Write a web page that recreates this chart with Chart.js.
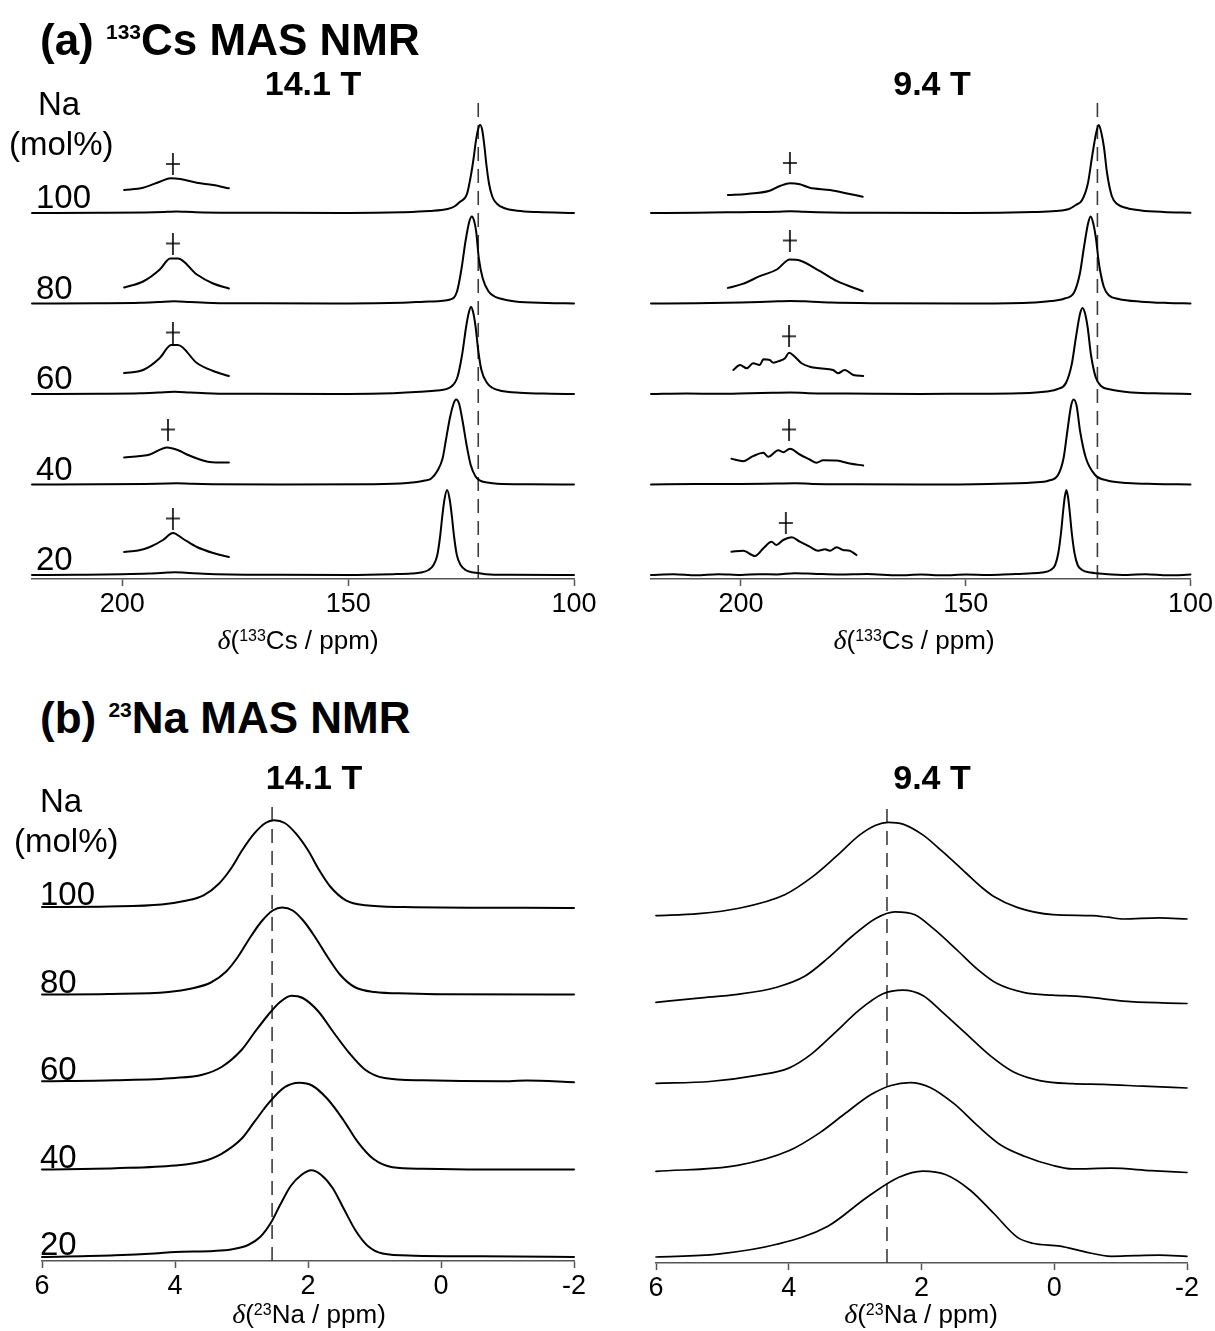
<!DOCTYPE html>
<html>
<head>
<meta charset="utf-8">
<title>133Cs and 23Na MAS NMR</title>
<script src="https://cdn.jsdelivr.net/npm/chart.js@4/dist/chart.umd.min.js"></script>
<style>
  html, body { margin: 0; padding: 0; background: #fff; }
  body { width: 1215px; height: 1331px; position: relative; overflow: hidden;
         font-family: "Liberation Sans", Arial, Helvetica, sans-serif; color: #000; }
  canvas { position: absolute; z-index: 1; }
  .t { position: absolute; z-index: 2; line-height: 1; white-space: nowrap; transform: translateY(-50%); }
  .c { transform: translate(-50%, -50%); }
  .title { font-size: 44px; font-weight: bold; }
  .title .sup { font-size: 21px; position: relative; top: -16px; font-weight: bold; }
  .field { font-size: 34px; font-weight: bold; }
  .lab { font-size: 33px; }
  .ax { font-size: 26px; }
  .ax .sup { font-size: 16px; position: relative; top: -8px; }
  .ax i { font-family: "Liberation Serif", "Times New Roman", serif; font-size: 28px; }
</style>
</head>
<body>
<canvas id="csHigh"></canvas>
<canvas id="csLow"></canvas>
<canvas id="naHigh"></canvas>
<canvas id="naLow"></canvas>

<div class="t title" style="left:40px;top:40px">(a) <span class="sup">133</span>Cs MAS NMR</div>
<div class="t title" style="left:40px;top:718px">(b) <span class="sup">23</span>Na MAS NMR</div>
<div class="t field c" style="left:313px;top:83px">14.1 T</div>
<div class="t field c" style="left:932px;top:83px">9.4 T</div>
<div class="t field c" style="left:314px;top:777px">14.1 T</div>
<div class="t field c" style="left:932px;top:777px">9.4 T</div>
<div class="t lab" style="left:38px;top:103px">Na</div>
<div class="t lab" style="left:9px;top:143px">(mol%)</div>
<div class="t lab" style="left:40px;top:800px">Na</div>
<div class="t lab" style="left:14px;top:840px">(mol%)</div>
<div class="t ax c" style="left:298px;top:640px"><i>δ</i>(<span class="sup">133</span>Cs / ppm)</div>
<div class="t ax c" style="left:914px;top:640px"><i>δ</i>(<span class="sup">133</span>Cs / ppm)</div>
<div class="t ax c" style="left:309px;top:1314px"><i>δ</i>(<span class="sup">23</span>Na / ppm)</div>
<div class="t ax c" style="left:921px;top:1314px"><i>δ</i>(<span class="sup">23</span>Na / ppm)</div>

<script>
// ---- Data -----------------------------------------------------------------
// Na content of the glasses (mol%), listed from the bottom trace to the top one
const naContent = ['20', '40', '60', '80', '100'];

// Shift windows and tick labels (ppm)
const csRange = [100, 220];
const naRange = [-2, 6];
const csTicks = [200, 150, 100];
const naTicks = [6, 4, 2, 0, -2];

// Reference shifts marked by the dashed lines (ppm)
const csRef141 = 121.2;
const csRef94 = 120.7;
const naRef141 = 2.54;
const naRef94 = 2.52;

// 133Cs MAS NMR, 14.1 T : [shift ppm, intensity]
const cs141_20 = [[220,0],[210,0.3],[200,0.8],[194,1.5],[190,2.4],[188.5,2.7],[186,2.2],[182,1.2],[176,0.5],[165,0.2],[150,0],[140,0.8],[136,1.5],[133.9,2.5],[132.2,5],[131.1,10],[130.26,20],[129.66,38],[129.18,58],[128.7,75],[128.1,85],[127.5,75],[127.02,58],[126.54,38],[125.94,20],[125.1,10],[124.0,5],[122.6,2.8],[121.2,2],[119.5,0.8],[114,0.2],[100,0]];
const cs141_40 = [[220,0],[205,0.2],[195,0.6],[190,1.1],[188,1.2],[185,0.8],[180,0.3],[165,0],[145,0.3],[137,1.5],[133,4],[131.6,6],[130.2,14],[129.1,26],[128.3,46],[127.5,66],[126.65,81],[126.1,85],[125.45,81],[124.65,63],[123.8,40],[122.9,20],[121.8,8],[120.6,3.5],[119.2,2],[117,0.8],[110,0.3],[100,0]];
const cs141_60 = [[220,0],[205,0.3],[196,0.8],[192,1.5],[188.5,2.2],[185,1.5],[180,0.6],[170,0.2],[150,0],[140,0.8],[134,2.2],[130.4,3.5],[127.3,7],[125.8,17],[124.75,40],[123.89,67],[123.26,82],[122.8,87],[122.34,82],[121.78,67],[121.19,43],[120.5,24],[119.24,11],[118,6],[116.3,3.3],[112,1.2],[105,0.3],[100,0]];
const cs141_80 = [[220,0],[205,0.3],[196,0.8],[192,1.5],[188.5,2.2],[185,1.5],[180,0.6],[170,0.2],[150,0],[138,0.8],[132,2],[127.4,4],[125.9,12],[124.9,35],[124.03,62],[123.18,82],[122.6,87],[122.14,83],[121.66,72],[121.07,45],[120.2,25],[118.9,12],[117.6,7],[116.4,5],[113,2],[106,0.5],[100,0]];
const cs141_100 = [[220,0],[205,0.2],[195,0.6],[190,1.2],[188,1.5],[186,1.2],[182,0.5],[170,0.2],[150,0],[138,0.8],[132,2],[128,4],[126.5,6.5],[125.3,11],[123.7,19],[122.85,37],[122.25,54],[121.75,71],[121.22,84],[120.8,88],[120.32,83],[119.84,67],[119.36,47],[118.8,29],[118.05,16],[117.0,9],[115.5,5],[112.5,2.2],[108,0.9],[100,0]];

// 14.1 T vertically expanded traces of the 176-200 ppm region
const cs141x_20 = [[199.6,23],[196.5,24.5],[193.9,28],[191,35],[188.8,42],[186.5,36],[183.5,28],[179.9,22],[176.4,18]];
const cs141x_40 = [[199.6,27],[196,28.5],[193.9,30],[190.1,37],[187.5,34],[185.7,30],[181.3,23],[178.5,22],[176.4,22]];
const cs141x_60 = [[199.6,21],[195.4,24],[191.7,36],[189.2,49],[187.7,49],[183.5,31],[179.9,23],[176.4,18]];
const cs141x_80 = [[199.6,16],[195.4,22],[191.7,34],[189.4,45],[187.7,45],[183.5,29],[179.9,20],[176.4,15]];
const cs141x_100 = [[199.6,23],[195.4,25.3],[191.7,31.3],[189.3,34.7],[187.2,34],[183.5,30.3],[179.9,28],[176.4,24.7]];
// "+" markers above the expanded traces
const cs141Marks = [[188.8,56.5],[189.9,55],[188.8,61.5],[188.8,60],[188.8,49]];

// 133Cs MAS NMR, 9.4 T
const cs94_20 = [[220,0],[215,0.8],[210,-0.3],[205,0.8],[200,0],[196,0.8],[192,0.5],[188,1.8],[184,1.3],[178,0.5],[172,1],[165,-0.3],[160,0.4],[155,-0.3],[150,0.4],[145,0],[140,0.8],[136,1.5],[133,2.5],[131.1,5],[130.1,10],[129.4,22],[128.8,42],[128.32,64],[127.96,78],[127.6,85],[127.24,78],[126.88,64],[126.4,42],[125.8,22],[125.1,10],[124.1,5],[122.2,2.5],[119,1],[114,0],[110,0.8],[105,-0.3],[100,0.4]];
const cs94_40 = [[220,0],[210,0.4],[200,0.6],[192,1],[188,1.2],[184,0.6],[175,0.2],[160,0],[145,0.5],[135,2],[131.5,4],[129.4,10],[128.2,27],[127.4,53],[126.55,79],[126.0,85],[125.34,79],[124.54,53],[123.3,27],[121.3,10],[118.5,4],[114,1.5],[108,0.5],[100,0]];
const cs94_60 = [[220,0],[212,0.5],[205,0.2],[198,0.8],[193,1.2],[189,1.5],[185,0.8],[178,0.5],[170,0.2],[160,0],[150,0.3],[138,0.8],[132,2.5],[129.5,5],[127.7,11],[126.4,30],[125.5,56],[124.58,80],[124.0,86],[123.42,80],[122.85,66],[122.16,40],[121.1,17],[119.9,8],[117.8,4.5],[113,1.5],[106,0.5],[100,0]];
const cs94_80 = [[220,0],[210,0.3],[200,1],[193,2],[189,2.5],[185,2],[180,1],[170,0.3],[150,0],[136,0.8],[131,2.5],[128,5],[125.9,11],[124.6,30],[123.7,56],[122.78,80],[122.2,87],[121.62,80],[121.05,66],[120.36,40],[119.3,17],[118.1,8],[116,4.5],[111,1.8],[105,0.5],[100,0]];
const cs94_100 = [[220,0],[210,0.3],[200,0.8],[192,1.2],[189,1.8],[186,1.2],[180,0.5],[170,0.2],[150,0],[135,1],[130,2],[127,4],[125.5,8],[124.1,13],[122.8,30],[121.9,56],[120.98,80],[120.4,88],[119.82,80],[119.25,66],[118.56,40],[117.5,17],[116.3,9],[114.2,5],[111,2.5],[106,1],[100,0.3]];

const cs94x_20 = [[202.1,23.3],[199.5,24.3],[196.9,19],[195.0,26.7],[193.2,33.3],[192.1,30],[190.6,35],[188.7,37.7],[186.9,33.3],[184.7,28.3],[182.8,24.3],[181.3,25.7],[180.2,24.3],[178.7,27.7],[177.3,25],[175.8,24.3],[174.3,20]];
const cs94x_40 = [[202.1,25.7],[199.5,23.3],[197.3,28.3],[195.0,31.7],[193.9,27.7],[191.7,34.3],[190.6,32.3],[189.1,35.7],[186.9,30],[184.7,25],[183.2,21.7],[181.7,24.3],[178.7,24],[175.8,21],[172.8,19]];
const cs94x_60 = [[201.7,24],[200.2,29],[198.7,25.7],[197.3,30.7],[195.8,29],[195.0,34.7],[193.6,34],[192.8,31.3],[191.3,33.3],[190.2,35.7],[189.3,41.3],[188.0,37.3],[186.5,30.7],[184.7,27.3],[182.4,25.7],[179.5,24],[178.4,20.7],[176.9,24],[175.0,19],[172.8,18]];
const cs94x_80 = [[202.9,15.6],[199.6,19.6],[195.8,27.3],[192.0,34],[189.1,44],[186.9,43],[182.4,32.3],[178.6,22.3],[172.9,12.3]];
const cs94x_100 = [[202.9,18],[198.7,19],[193.6,22.3],[191.3,27],[189.1,29.7],[186.9,28.7],[184.7,25.3],[180.2,23],[175.8,19],[172.9,16.3]];
const cs94Marks = [[190.0,52],[189.3,55],[189.3,57.7],[189.1,63],[189.1,50]];

// 23Na MAS NMR, 14.1 T
const na141_20 = [[6.0,0],[4.9,1.7],[4.31,3.5],[4.0,5],[3.42,6],[3.16,7.5],[2.9,12],[2.72,20],[2.56,34],[2.42,52],[2.26,71],[2.1,82],[1.95,86.7],[1.8,82],[1.63,69],[1.46,48],[1.28,26],[1.1,11],[0.88,3.5],[0.4,1.3],[-0.6,0.7],[-2.0,0]];
const na141_40 = [[6.0,0],[4.9,1.3],[4.0,4],[3.59,8],[3.3,15.7],[3.0,30.7],[2.81,47.3],[2.58,67.3],[2.35,82.3],[2.13,86.7],[1.94,84],[1.71,70.7],[1.48,50.7],[1.25,27.3],[1.02,10.7],[0.73,2.3],[0.27,0.7],[-0.6,0],[-2.0,0]];
const na141_60 = [[6.0,0.7],[4.9,1.7],[4.0,4],[3.59,7.3],[3.3,15],[3.0,32],[2.81,49],[2.6,67],[2.42,80],[2.25,86.3],[2.08,84],[1.85,71],[1.62,50],[1.38,29],[1.14,12.3],[0.85,4],[0.27,1.7],[-0.89,0.7],[-1.29,1.5],[-2.0,-0.3]];
const na141_80 = [[6.0,0],[5.0,0.5],[4.1,2.5],[3.75,6],[3.46,12],[3.23,23],[3.05,38],[2.88,56],[2.7,73],[2.53,84],[2.39,87],[2.23,84],[2.06,73],[1.88,56],[1.7,37],[1.52,20],[1.3,7.5],[1.0,2.5],[0.5,1],[0,0.3],[-2.0,0]];
const na141_100 = [[6.0,0],[5.0,0.5],[4.2,2.5],[3.86,6],[3.57,11.7],[3.34,23.3],[3.16,38.3],[2.99,56.7],[2.81,73.3],[2.64,84],[2.51,86.7],[2.35,84],[2.18,73.3],[2.0,56.7],[1.83,36.7],[1.66,20],[1.43,6.7],[1.14,1.7],[0.56,0],[-2.0,-1]];

// 23Na MAS NMR, 9.4 T
const na94_20 = [[6.0,0],[5.07,2.9],[4.18,12.7],[3.41,30.8],[2.82,59.8],[2.34,79.7],[1.98,85.9],[1.63,82.2],[1.27,67],[0.91,43.5],[0.56,19.9],[0.33,13.8],[-0.09,10.9],[-0.45,5.4],[-0.86,0.7],[-1.22,1.4],[-1.58,1.8],[-2.0,0.7]];
const na94_40 = [[6.0,1.1],[4.77,7.2],[4.0,21.7],[3.53,39.9],[3.17,58],[2.76,77.9],[2.46,87],[2.17,89.9],[1.87,85.1],[1.51,68.8],[1.16,47.1],[0.8,27.2],[0.45,16.3],[0.03,7.2],[-0.27,3.6],[-0.86,4.3],[-1.46,1.8],[-2.0,0]];
const na94_60 = [[6.0,4.7],[5.19,6.5],[4.48,12.7],[4.0,19.9],[3.65,34.4],[3.29,56.2],[2.94,77.9],[2.58,94.2],[2.28,97.8],[1.98,92.4],[1.69,76.1],[1.33,54.3],[0.97,32.6],[0.62,16.3],[0.2,7.2],[-0.27,4.3],[-0.74,3.6],[-1.34,1.8],[-2.0,0]];
const na94_80 = [[6.0,1.1],[5.36,5.4],[4.77,9.1],[4.18,16.3],[3.76,27.2],[3.41,45.3],[3.05,67],[2.69,85.1],[2.4,91.7],[2.1,88.8],[1.81,74.3],[1.45,52.5],[1.16,34.4],[0.86,19.9],[0.45,10.9],[0.03,8.3],[-0.38,7.2],[-0.74,4.7],[-1.15,1.8],[-2.0,0]];
const na94_100 = [[6.0,3.3],[5.36,5.4],[4.77,10.5],[4.06,24.3],[3.64,42.4],[3.29,62.3],[2.93,84.1],[2.69,93.8],[2.5,96.7],[2.28,94.9],[1.98,84.1],[1.69,67.8],[1.33,46],[1.09,31.5],[0.91,22.5],[0.56,11.6],[0.02,4.3],[-0.57,3.3],[-0.81,1.8],[-1.04,0],[-1.58,1.1],[-2.0,0]];

// ---- Drawing --------------------------------------------------------------
const FONT = '"Liberation Sans", Arial, Helvetica, sans-serif';
const AXIS_H = 45;

// small "+" used to flag the expanded region
function plusMark() {
  const c = document.createElement('canvas');
  c.width = 16; c.height = 22;
  const g = c.getContext('2d');
  g.strokeStyle = '#000';
  g.lineWidth = 1.6;
  g.beginPath();
  g.moveTo(8, 0); g.lineTo(8, 22);
  g.moveTo(1, 11); g.lineTo(15, 11);
  g.stroke();
  return c;
}
const PLUS = plusMark();

function trace(points, width) {
  return {
    data: points, borderColor: '#000', borderWidth: width, pointRadius: 0,
    cubicInterpolationMode: 'monotone', fill: false, clip: false,
    borderJoinStyle: 'round', borderCapStyle: 'round'
  };
}

function panel(cfg) {
  const cv = document.getElementById(cfg.id);
  const b = cfg.box, a = cfg.area;
  cv.width = b.w; cv.height = b.h;
  Object.assign(cv.style, { left: b.x + 'px', top: b.y + 'px', width: b.w + 'px', height: b.h + 'px' });

  const yMax = a.y1 - a.y0;
  const level = i => cfg.base0 + i * cfg.step;
  const lift = rows => rows.map((row, i) => row.map(([x, v]) => ({ x, y: v + level(i) })));

  const datasets = [];
  lift(cfg.spectra).forEach(d => datasets.push(trace(d, cfg.lw)));
  if (cfg.expanded) lift(cfg.expanded).forEach(d => datasets.push(trace(d, cfg.lw)));
  if (cfg.marks) {
    datasets.push({
      data: cfg.marks.map(([x, v], i) => ({ x, y: v + level(i) })),
      showLine: false, pointStyle: PLUS, pointRadius: 6, clip: false
    });
  }
  datasets.push({
    data: [{ x: cfg.ref, y: 0 }, { x: cfg.ref, y: yMax }],
    borderColor: '#3c3c3c', borderWidth: 1.6, borderDash: [14, 8],
    pointRadius: 0, tension: 0, fill: false, clip: false
  });

  new Chart(cv, {
    type: 'line',
    data: { datasets },
    options: {
      responsive: false, animation: false, devicePixelRatio: 1,
      layout: { padding: { left: a.x0 - b.x, right: b.x + b.w - a.x1, top: a.y0 - b.y, bottom: b.y + b.h - a.y1 - AXIS_H } },
      plugins: { legend: { display: false }, tooltip: { enabled: false } },
      events: [],
      scales: {
        x: {
          type: 'linear', reverse: true, min: cfg.range[0], max: cfg.range[1],
          afterBuildTicks: s => { s.ticks = cfg.ticks.map(v => ({ value: v })); },
          afterFit: s => { s.height = AXIS_H; },
          border: { display: true, color: '#555', width: 1.5 },
          grid: { display: true, drawOnChartArea: false, drawTicks: true, tickLength: 7, tickWidth: 1.5, tickColor: '#555' },
          ticks: { color: '#000', font: { family: FONT, size: 27 }, padding: 2, maxRotation: 0, autoSkip: false }
        },
        y: { display: false, min: 0, max: yMax }
      }
    }
  });
}

function rowLabels(x, axisY, base0, step, lift) {
  naContent.forEach((txt, i) => {
    const d = document.createElement('div');
    d.className = 't lab';
    d.textContent = txt;
    d.style.left = x + 'px';
    d.style.top = (axisY - base0 - i * step - lift) + 'px';
    document.body.appendChild(d);
  });
}

panel({
  id: 'csHigh', box: { x: 0, y: 60, w: 607, h: 590 }, area: { x0: 32, x1: 574, y0: 97, y1: 579 },
  range: csRange, ticks: csTicks, ref: csRef141, base0: 4, step: 90.5, lw: 2,
  spectra: [cs141_20, cs141_40, cs141_60, cs141_80, cs141_100],
  expanded: [cs141x_20, cs141x_40, cs141x_60, cs141x_80, cs141x_100],
  marks: cs141Marks
});
panel({
  id: 'csLow', box: { x: 608, y: 60, w: 607, h: 590 }, area: { x0: 651, x1: 1191, y0: 97, y1: 579 },
  range: csRange, ticks: csTicks, ref: csRef94, base0: 4, step: 90.5, lw: 2,
  spectra: [cs94_20, cs94_40, cs94_60, cs94_80, cs94_100],
  expanded: [cs94x_20, cs94x_40, cs94x_60, cs94x_80, cs94x_100],
  marks: cs94Marks
});
panel({
  id: 'naHigh', box: { x: 0, y: 780, w: 607, h: 540 }, area: { x0: 42, x1: 574, y0: 803, y1: 1261 },
  range: naRange, ticks: naTicks, ref: naRef141, base0: 4, step: 87.5, lw: 2,
  spectra: [na141_20, na141_40, na141_60, na141_80, na141_100]
});
panel({
  id: 'naLow', box: { x: 608, y: 780, w: 607, h: 540 }, area: { x0: 656, x1: 1187, y0: 808, y1: 1263 },
  range: naRange, ticks: naTicks, ref: naRef94, base0: 6, step: 84.5, lw: 1.7,
  spectra: [na94_20, na94_40, na94_60, na94_80, na94_100]
});

rowLabels(36, 579, 4, 90.5, 17);
rowLabels(40, 1261, 4, 87.5, 14);
</script>
</body>
</html>
